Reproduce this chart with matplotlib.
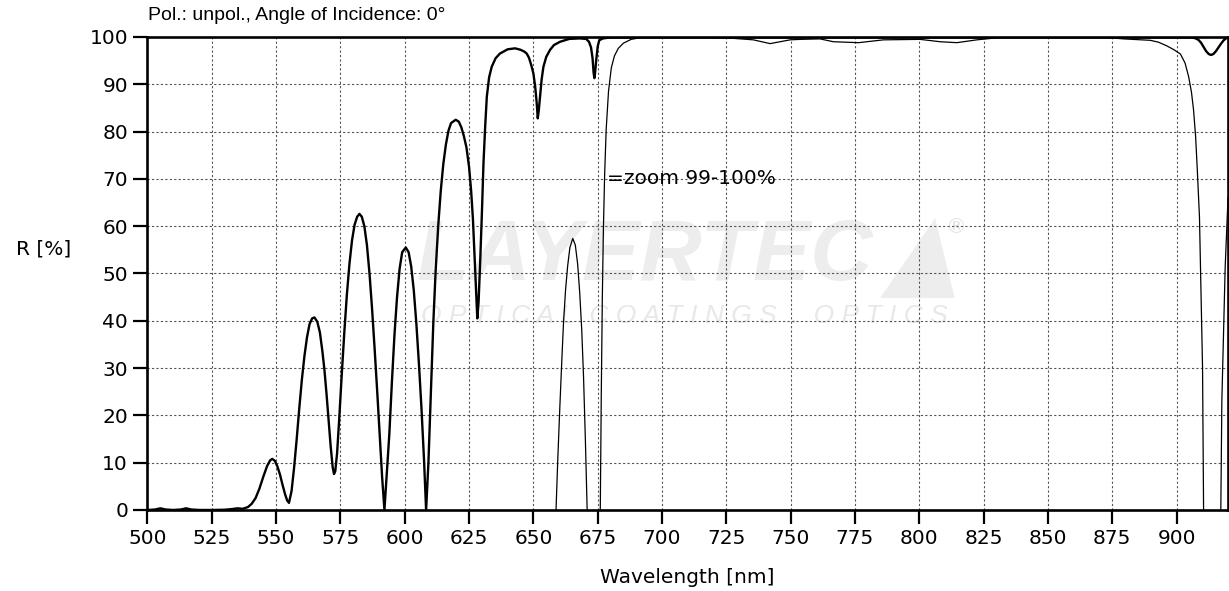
import numpy as np
import matplotlib
matplotlib.use('Agg')
import matplotlib.pyplot as plt

nan = np.nan

# 主曲线: 反射率 R [%]
wl_main = [500, 503, 505, 507, 510, 513, 515, 517, 520, 525, 530, 533, 535, 537,
           539, 540.5, 542, 543.5, 545, 546.5, 547.7, 548.5, 549.5, 550.5, 551.5,
           552.5, 553.5, 554.3, 555, 556, 557, 558, 559, 560, 561, 562, 563, 564,
           564.9, 566, 567, 568, 568.8, 569.6, 570.4, 571.2, 572, 572.5, 573, 573.7,
           574.5, 575.5, 576.5, 577.5, 578.5, 579.5, 580.5, 581.5, 582.4, 583.3,
           584.3, 585.3, 586.3, 587.3, 588.3, 589.3, 590.3, 591.2, 592.1, 593, 594,
           595, 596, 597, 598, 599, 600.4, 601.5, 602.5, 603.5, 604.5, 605.5, 606.5,
           607.5, 608.3, 609.2, 610.1, 611.1, 612, 613, 614, 615, 616, 617, 618,
           619.8, 621, 622, 623, 624, 625, 625.8, 626.5, 627.2, 627.8, 628.2, 628.7,
           629.3, 630, 630.6, 631.3, 631.9, 632.8, 633.8, 635.3, 637, 640, 642.9,
           645, 646.5, 647.4, 648.3, 649.2, 650, 650.7, 651.3, 651.7, 652.1, 652.6,
           653.2, 653.9, 655, 656.5, 658, 660.4, 664, 668, 670.5, 671.6, 672.4, 673,
           673.4, 673.7, 674, 674.4, 675, 675.6, 677, 680, 700, 750, 800, 850, 900,
           905, 907, 908.5, 909.5, 910.5, 911.5, 912.5, 913.4, 914.3, 915.3, 916.3,
           917.3, 918.3, 919.2, 920]
r_main = [0, 0.1, 0.35, 0.1, 0, 0.1, 0.35, 0.1, 0, 0, 0.05, 0.2, 0.35, 0.25,
          0.6, 1.3, 2.5, 4.5, 7, 9.3, 10.5, 10.8, 10.4, 9.2, 7.5,
          5.3, 3.3, 2, 1.5, 4, 9, 15, 21.5, 27.5, 32.5, 36.5, 39.3, 40.5,
          40.7, 39.8, 37.6, 33.5, 29.5, 24.5, 19, 13.5, 9, 7.6, 8.2, 12,
          19, 28.5, 37.5, 45.5, 52, 57, 60.3, 62, 62.6, 62,
          60, 56, 50, 42.5, 34, 25, 15.5, 7, 0, 7.5, 16,
          27, 37, 45, 51, 54.5, 55.5, 54.5, 51.5, 46.5, 39.5, 31, 21.5,
          10.5, 0, 10, 24, 39.5, 50.5, 60, 67.5, 73.2, 77.3, 80.2, 81.8,
          82.5, 82.1, 80.9, 79, 76.6, 72.5, 67.5, 61.5, 53, 46, 40.5, 44,
          52.2, 63, 73.3, 81.5, 87.4, 91.5, 93.7, 95.5, 96.5, 97.4, 97.6,
          97.3, 96.9, 96.5, 95.6, 94, 92.3, 89.5, 86, 82.8, 84.5, 87.4,
          91, 93.7, 95.8, 97.3, 98.3, 99, 99.6, 99.7, 99.6, 99, 97.8, 95.5,
          92.5, 91.3, 92.5, 95, 98, 99.3, 99.7, 99.9, 99.9, 99.9, 99.9, 99.9, 99.9,
          99.9, 99.8, 99.4, 98.8, 97.9, 97, 96.4, 96.2, 96.4, 97, 97.8,
          98.6, 99.3, 99.7, 99.9]

# 放大曲线: 99-100% 映射到 0-100
wl_zoom = [658.8, 659.5, 660.3, 661, 661.7, 662.5, 663.3, 664.2, 665.3, 666.3, 667.2,
           668, 668.8, 669.5, 670.2, 670.9, nan,
           676.0, 676.4, 676.8, 677.2, 677.7, 678.3, 679.2, 680.3, 681.5, 683, 685,
           688, 692, 697, 720, 728, 735.5, 742, 749.8, 753.7, 761.4, 766.6, 776.4,
           786.1, 800.3, 808.1, 814.6, 822.4, 831.5, 870, 879.4, 889.8, 893, 896.3,
           899, 901.5, 903.3, 904.7, 905.8, 906.6, 907.4, 908, 908.9, 909.5, 910.1,
           910.5, nan,
           917.2, 917.6, 918.9, 920]
r_zoom = [0, 11, 22, 31, 39.5, 46.5, 51.5, 55.5, 57.4, 56, 52,
          46, 38, 28, 15, 0, nan,
          0, 25, 45, 59, 71, 80.5, 88.5, 93.5, 96, 97.6, 98.7,
          99.5, 99.9, 100, 99.9, 99.7, 99.4, 98.6, 99.4, 99.5, 99.6, 99, 98.8,
          99.4, 99.5, 99, 98.8, 99.4, 99.9, 100, 99.6, 99.3, 98.9, 98.1,
          97.3, 96.4, 94.5, 91.6, 88.3, 84.6, 79, 72.6, 62, 46, 30,
          0, nan,
          0, 23, 51.4, 66]

x_ticks = list(range(500, 901, 25))
y_ticks = list(range(0, 101, 10))

title_text = 'Pol.: unpol., Angle of Incidence: 0°'
zoom_text = '=zoom 99-100%'


def plot_spectrum(save_path='out.png'):
    plt.rcParams['font.family'] = ['DejaVu Sans']

    fig = plt.figure(figsize=(12.29, 5.91), dpi=100)
    ax = fig.add_axes([0.1200, 0.1371, 0.8792, 0.8003])

    # 水印 (logo)
    ax.text(0.46, 0.533, 'LAYERTEC', transform=ax.transAxes, ha='center', va='center',
            fontsize=62, fontweight='bold', fontstyle='italic', family='Liberation Sans',
            color='#ededed', zorder=0)
    ax.fill([0.678, 0.729, 0.747], [0.448, 0.617, 0.448], transform=ax.transAxes,
            color='#ededed', linewidth=0, zorder=0)
    ax.text(0.738, 0.598, '®', transform=ax.transAxes, ha='left', va='center',
            fontsize=15, color='#e3e3e3', zorder=0)
    ax.text(0.497, 0.41, 'O P T I C A L  C O A T I N G S  .  O P T I C S',
            transform=ax.transAxes, ha='center', va='center', fontsize=19,
            fontstyle='italic', fontweight='light', family='Liberation Sans',
            color='#e8e8e8', zorder=0)

    ax.plot(wl_zoom, r_zoom, color='black', linewidth=0.9, zorder=3)
    ax.plot(wl_main, r_main, color='black', linewidth=1.7, zorder=4,
            solid_joinstyle='round')

    ax.set_xlim(500, 920)
    ax.set_ylim(0, 100)
    ax.set_xticks(x_ticks)
    ax.set_yticks(y_ticks)
    ax.grid(True, color='#555555', linewidth=0.8, linestyle=(0, (2, 2)), zorder=1)
    ax.set_axisbelow(True)

    for s in ax.spines.values():
        s.set_linewidth(1.9)
        s.set_zorder(5)
    ax.tick_params(direction='out', length=10, width=1.6, labelsize=14.5, pad=4)

    ax.text(678.5, 70, zoom_text, fontsize=14.5, va='center', ha='left', zorder=2)
    ax.set_xlabel('Wavelength [nm]', fontsize=14.5, labelpad=14)
    fig.text(44 / 1229, 1 - 249 / 591, 'R [%]', fontsize=14.5, ha='center', va='center')
    fig.text(148 / 1229, 1 - 16 / 591, title_text, fontsize=14, family='Liberation Sans',
             ha='left', va='center')

    fig.savefig(save_path, dpi=100, facecolor='white')
    plt.close(fig)


def main():
    plot_spectrum('out.png')


if __name__ == '__main__':
    main()
